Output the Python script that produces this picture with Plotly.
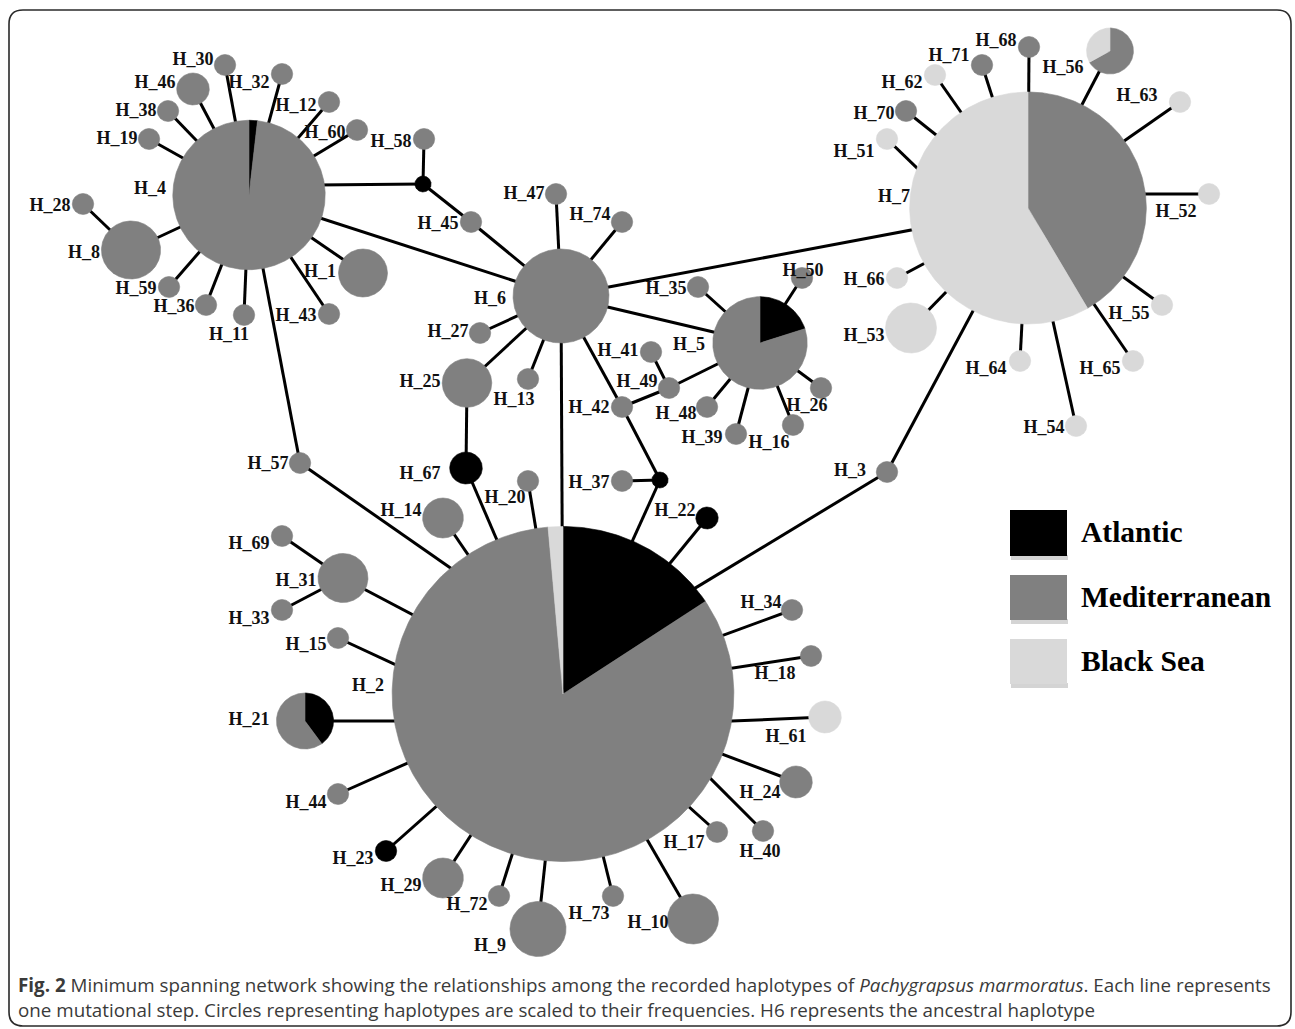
import math
import plotly.graph_objects as go

# ------------------------------------------------------------------
# Haplotype data
# ------------------------------------------------------------------
HAPLOTYPES = [f"H_{i}" for i in range(1, 75)]

REGIONS = ["Atlantic", "Mediterranean", "Black Sea"]
REGION_COLORS = ["#000000", "#808080", "#d9d9d9"]

# haplotypes sampled in more than one region: counts (Atlantic, Mediterranean, Black Sea)
SHARED_COUNTS = {
    "H_2": (45, 238, 4),
    "H_4": (1, 55, 0),
    "H_5": (4, 16, 0),
    "H_7": (0, 57, 80),
    "H_21": (2, 3, 0),
    "H_56": (0, 4, 2),
}
# private haplotypes (all remaining ones are Mediterranean only)
ATLANTIC_PRIVATE = ["H_22", "H_23", "H_67"]
BLACK_SEA_PRIVATE = ["H_51", "H_52", "H_53", "H_54", "H_55", "H_61",
                     "H_62", "H_63", "H_64", "H_65", "H_66"]

# one mutational step per link; mv1 / mv2 are inferred median vectors
LINKS = [
    ("H_4", "H_30"), ("H_4", "H_46"), ("H_4", "H_38"), ("H_4", "H_19"),
    ("H_4", "H_8"), ("H_8", "H_28"), ("H_4", "H_59"), ("H_4", "H_36"),
    ("H_4", "H_11"), ("H_4", "H_43"), ("H_4", "H_1"), ("H_4", "H_60"),
    ("H_4", "H_12"), ("H_4", "H_32"), ("mv1", "H_4"), ("mv1", "H_58"),
    ("mv1", "H_45"), ("H_45", "H_6"), ("H_4", "H_6"), ("H_4", "H_57"),
    ("H_57", "H_2"),
    ("H_6", "H_47"), ("H_6", "H_74"), ("H_6", "H_27"), ("H_6", "H_13"),
    ("H_6", "H_25"), ("H_25", "H_67"), ("H_67", "H_2"), ("H_6", "H_42"),
    ("H_42", "H_49"), ("H_49", "H_41"), ("H_49", "H_5"), ("H_42", "mv2"),
    ("mv2", "H_37"), ("mv2", "H_2"), ("H_6", "H_5"), ("H_6", "H_7"),
    ("H_6", "H_2"),
    ("H_5", "H_35"), ("H_5", "H_50"), ("H_5", "H_26"), ("H_5", "H_16"),
    ("H_5", "H_39"), ("H_5", "H_48"),
    ("H_7", "H_68"), ("H_7", "H_71"), ("H_7", "H_62"), ("H_7", "H_70"),
    ("H_51", "H_7"), ("H_7", "H_56"), ("H_7", "H_63"), ("H_52", "H_7"),
    ("H_7", "H_55"), ("H_7", "H_65"), ("H_7", "H_54"), ("H_7", "H_64"),
    ("H_7", "H_53"), ("H_7", "H_66"), ("H_7", "H_3"), ("H_3", "H_2"),
    ("H_20", "H_2"), ("H_14", "H_2"), ("H_31", "H_2"), ("H_15", "H_2"),
    ("H_21", "H_2"), ("H_44", "H_2"), ("H_23", "H_2"), ("H_29", "H_2"),
    ("H_72", "H_2"), ("H_9", "H_2"), ("H_73", "H_2"), ("H_10", "H_2"),
    ("H_17", "H_2"), ("H_40", "H_2"), ("H_24", "H_2"), ("H_61", "H_2"),
    ("H_18", "H_2"), ("H_34", "H_2"), ("H_22", "H_2"),
    ("H_31", "H_69"), ("H_31", "H_33"),
]

# ------------------------------------------------------------------
# Network layout (pixel-space coordinates, y grows downward)
# ------------------------------------------------------------------
NODE_XY = {
    "H_1": (363, 273), "H_2": (563, 694), "H_3": (887, 472), "H_4": (249, 195),
    "H_5": (760, 343), "H_6": (561, 296), "H_7": (1028, 208), "H_8": (131, 250),
    "H_9": (538, 929), "H_10": (693, 919), "H_11": (244, 315), "H_12": (329, 102),
    "H_13": (528, 379), "H_14": (443, 518), "H_15": (338, 638), "H_16": (793, 425),
    "H_17": (717, 832), "H_18": (811, 656), "H_19": (149, 139), "H_20": (528, 481),
    "H_21": (305, 721), "H_22": (707, 518), "H_23": (386, 851), "H_24": (796, 782),
    "H_25": (467, 383), "H_26": (821, 388), "H_27": (480, 333), "H_28": (83, 204),
    "H_29": (443, 878), "H_30": (225, 65), "H_31": (343, 578), "H_32": (282, 74),
    "H_33": (282, 610), "H_34": (792, 610), "H_35": (698, 287), "H_36": (206, 305),
    "H_37": (622, 481), "H_38": (168, 111), "H_39": (736, 434), "H_40": (763, 831),
    "H_41": (651, 352), "H_42": (622, 407), "H_43": (329, 314), "H_44": (338, 794),
    "H_45": (471, 222), "H_46": (193, 89), "H_47": (556, 194), "H_48": (707, 407),
    "H_49": (669, 388), "H_50": (802, 278), "H_51": (887, 139), "H_52": (1209, 194),
    "H_53": (911, 328), "H_54": (1076, 426), "H_55": (1162, 305), "H_56": (1110, 51),
    "H_57": (300, 463), "H_58": (424, 139), "H_59": (169, 287), "H_60": (357, 130),
    "H_61": (825, 717), "H_62": (935, 75), "H_63": (1180, 102), "H_64": (1020, 361),
    "H_65": (1133, 361), "H_66": (897, 278), "H_67": (466, 468), "H_68": (1029, 47),
    "H_69": (282, 536), "H_70": (906, 111), "H_71": (982, 65), "H_72": (499, 896),
    "H_73": (613, 896), "H_74": (622, 222),
    "mv1": (423, 184), "mv2": (660, 480),
}

NODE_R = {
    "H_2": 167.5, "H_7": 116.0, "H_4": 74.7, "H_6": 47.0, "H_5": 46.3,
    "H_8": 29.0, "H_21": 28.0, "H_9": 27.5, "H_10": 25.0, "H_53": 25.0,
    "H_31": 24.5, "H_25": 24.3, "H_1": 24.0, "H_56": 23.0, "H_14": 20.0,
    "H_29": 20.0, "H_46": 16.0, "H_67": 16.0, "H_24": 16.0, "H_61": 16.0,
    "H_22": 11.0, "mv1": 8.0, "mv2": 8.0,
}
DEFAULT_R = 10.5
X_STRETCH = 1.02

# where some links meet the large circles
LINK_ATTACH = {
    ("H_57", "H_2"): (449, 567), ("H_15", "H_2"): (394, 664),
    ("H_21", "H_2"): (394, 721), ("H_61", "H_2"): (733, 721),
    ("H_3", "H_2"): (697, 587), ("H_40", "H_2"): (712, 780),
    ("H_52", "H_7"): (1145, 194), ("H_51", "H_7"): (916, 167),
    ("H_43", "H_4"): (283, 262), ("mv1", "H_4"): (324, 185),
}

LABEL_XY = {
    "H_1": (320, 272), "H_2": (368, 686), "H_3": (850, 471), "H_4": (150, 189),
    "H_5": (689, 345), "H_6": (490, 299), "H_7": (894, 197), "H_8": (84, 253),
    "H_9": (490, 946), "H_10": (648, 923), "H_11": (229, 335), "H_12": (296, 106),
    "H_13": (514, 400), "H_14": (401, 511), "H_15": (306, 645), "H_16": (769, 443),
    "H_17": (684, 843), "H_18": (775, 674), "H_19": (117, 139), "H_20": (505, 498),
    "H_21": (249, 720), "H_22": (675, 511), "H_23": (353, 859), "H_24": (760, 793),
    "H_25": (420, 382), "H_26": (807, 406), "H_27": (448, 332), "H_28": (50, 206),
    "H_29": (401, 886), "H_30": (193, 60), "H_31": (296, 581), "H_32": (249, 83),
    "H_33": (249, 619), "H_34": (761, 603), "H_35": (666, 289), "H_36": (174, 307),
    "H_37": (589, 483), "H_38": (136, 111), "H_39": (702, 438), "H_40": (760, 852),
    "H_41": (618, 351), "H_42": (589, 408), "H_43": (296, 316), "H_44": (306, 803),
    "H_45": (438, 224), "H_46": (155, 83), "H_47": (524, 194), "H_48": (676, 414),
    "H_49": (637, 382), "H_50": (803, 271), "H_51": (854, 152), "H_52": (1176, 212),
    "H_53": (864, 336), "H_54": (1044, 428), "H_55": (1129, 314), "H_56": (1063, 68),
    "H_57": (268, 464), "H_58": (391, 142), "H_59": (136, 289), "H_60": (325, 133),
    "H_61": (786, 737), "H_62": (902, 83), "H_63": (1137, 96), "H_64": (986, 369),
    "H_65": (1100, 369), "H_66": (864, 280), "H_67": (420, 474), "H_68": (996, 41),
    "H_69": (249, 544), "H_70": (874, 114), "H_71": (949, 56), "H_72": (467, 905),
    "H_73": (589, 914), "H_74": (590, 215),
}

LABEL_FONT = dict(family="Liberation Serif", size=18, color="#111111")


def composition(name):
    if name in SHARED_COUNTS:
        return SHARED_COUNTS[name]
    if name.startswith("mv") or name in ATLANTIC_PRIVATE:
        return (1, 0, 0)
    if name in BLACK_SEA_PRIVATE:
        return (0, 0, 1)
    return (0, 1, 0)


def arc_points(cx, cy, r, a0, a1, with_center):
    steps = max(16, int(abs(a1 - a0) / (2 * math.pi) * 360))
    xs, ys = [], []
    if with_center:
        xs.append(cx)
        ys.append(cy)
    for k in range(steps + 1):
        t = a0 + (a1 - a0) * k / steps
        xs.append(cx + r * X_STRETCH * math.sin(t))
        ys.append(cy - r * math.cos(t))
    if with_center:
        xs.append(cx)
        ys.append(cy)
    return xs, ys


fig = go.Figure()

# ---- links ----
ex, ey = [], []
for a, b in LINKS:
    xa, ya = NODE_XY[a]
    xb, yb = NODE_XY[b]
    if (a, b) in LINK_ATTACH:
        px, py = LINK_ATTACH[(a, b)]
        d = math.hypot(px - xa, py - ya)
        xb, yb = px + (px - xa) / d * 8, py + (py - ya) / d * 8
    ex += [xa, xb, None]
    ey += [ya, yb, None]
fig.add_trace(go.Scatter(x=ex, y=ey, mode="lines",
                         line=dict(color="#000000", width=3),
                         hoverinfo="skip", showlegend=False))

# ---- haplotype circles / pies ----
for name in HAPLOTYPES + ["mv1", "mv2"]:
    cx, cy = NODE_XY[name]
    r = NODE_R.get(name, DEFAULT_R)
    counts = composition(name)
    total = sum(counts)
    start = 0.0
    for share, color in zip(counts, REGION_COLORS):
        if share == 0:
            continue
        sweep = 2 * math.pi * share / total
        full = share == total
        xs, ys = arc_points(cx, cy, r, start, start + sweep, not full)
        fig.add_trace(go.Scatter(x=xs, y=ys, mode="lines", fill="toself",
                                 fillcolor=color,
                                 line=dict(color=color, width=0.6),
                                 hoverinfo="skip", showlegend=False))
        start += sweep

# ---- haplotype labels ----
fig.add_trace(go.Scatter(
    x=[LABEL_XY[n][0] for n in HAPLOTYPES],
    y=[LABEL_XY[n][1] for n in HAPLOTYPES],
    mode="text", text=[f"<b>{n}</b>" for n in HAPLOTYPES],
    textposition="middle center", textfont=LABEL_FONT,
    hoverinfo="skip", showlegend=False))

# ---- legend (region colour key) ----
LEGEND_ROWS = [(510, 556), (575, 620), (639, 684)]
shapes = []
annotations = []
for (y0, y1), region, color in zip(LEGEND_ROWS, REGIONS, REGION_COLORS):
    shapes.append(dict(type="rect", xref="x", yref="y", x0=1011, x1=1068,
                       y0=y1 - 1, y1=y1 + 4, fillcolor="#a0a0a0", opacity=0.45,
                       line=dict(width=0), layer="below"))
    shapes.append(dict(type="rect", xref="x", yref="y", x0=1010, x1=1067,
                       y0=y0, y1=y1, fillcolor=color, line=dict(width=0)))
    annotations.append(dict(x=1079, y=(y0 + y1) / 2 - 1, xref="x", yref="y",
                            text=f"<b>{region}</b>", showarrow=False,
                            xanchor="left", yanchor="middle",
                            font=dict(family="Liberation Serif", size=29.5,
                                      color="#000000")))

# ---- rounded frame ----
bx0, by0, bx1, by1, br = 9, 10, 1291, 1026, 14
frame = (f"M {bx0 + br},{by0} L {bx1 - br},{by0} Q {bx1},{by0} {bx1},{by0 + br} "
         f"L {bx1},{by1 - br} Q {bx1},{by1} {bx1 - br},{by1} "
         f"L {bx0 + br},{by1} Q {bx0},{by1} {bx0},{by1 - br} "
         f"L {bx0},{by0 + br} Q {bx0},{by0} {bx0 + br},{by0} Z")
shapes.append(dict(type="path", path=frame, xref="x", yref="y",
                   line=dict(color="#2a2a2a", width=1.6)))

# ---- caption ----
CAPTION_FONT = dict(family="Open Sans", size=18.8, color="#3a3a3a")
annotations.append(dict(
    x=16, y=985, xref="x", yref="y", xanchor="left", yanchor="middle",
    showarrow=False, font=CAPTION_FONT,
    text=("<b>Fig. 2</b> Minimum spanning network showing the relationships among the "
          "recorded haplotypes of <i>Pachygrapsus marmoratus</i>. Each line represents")))
annotations.append(dict(
    x=16, y=1010, xref="x", yref="y", xanchor="left", yanchor="middle",
    showarrow=False, font=CAPTION_FONT,
    text=("one mutational step. Circles representing haplotypes are scaled to their "
          "frequencies. H6 represents the ancestral haplotype")))

fig.update_layout(
    width=1295, height=1029, autosize=False,
    margin=dict(l=0, r=0, t=0, b=0, pad=0),
    paper_bgcolor="#ffffff", plot_bgcolor="#ffffff",
    xaxis=dict(range=[0, 1295], visible=False, fixedrange=True),
    yaxis=dict(range=[1029, 0], visible=False, fixedrange=True),
    shapes=shapes, annotations=annotations,
    hovermode=False, showlegend=False,
)

fig.write_html("out.html", post_script="document.body.style.margin='0';")
